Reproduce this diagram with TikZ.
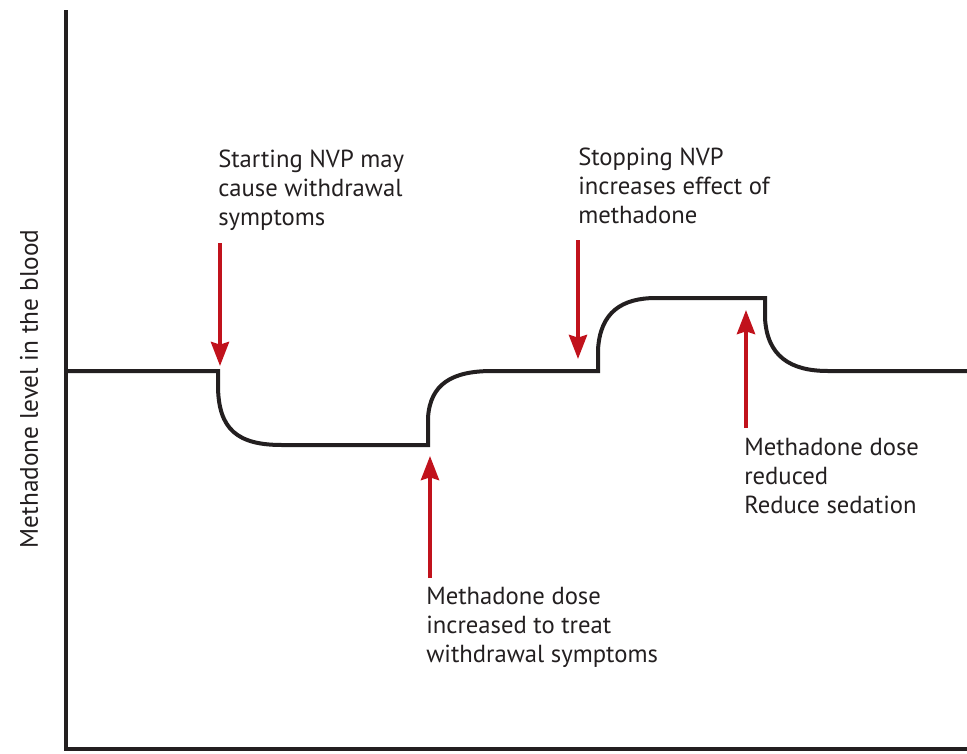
\documentclass[tikz,border=0pt]{standalone}
\usepackage{fontspec}
\setmainfont{PT Sans}
\usepackage{tikz}
\usetikzlibrary{arrows.meta,calc}
\definecolor{curvegray}{HTML}{231F20}
\definecolor{arrowred}{HTML}{C1121C}

\tikzset{
  axisline/.style={line width=3pt,curvegray},
  levelline/.style={line width=3pt,curvegray,line join=miter},
  redarrow/.style={line width=3pt,arrowred,-{Stealth[length=18pt,width=13.5pt,inset=2pt]}},
  note/.style={align=left,anchor=north west,inner sep=0pt,text=curvegray,font=\fontsize{18.5}{21.75}\selectfont}
}

\begin{document}
\begin{tikzpicture}[x=0.75pt,y=-0.75pt]
\useasboundingbox (0,0) rectangle (967,753);
% axes
\draw[axisline] (66,10) -- (66,749) -- (967,749);
\node[rotate=90,text=curvegray,font=\fontsize{19}{22}\selectfont] (ylab) at (29,389) {Methadone level in the blood};
% methadone level
\draw[levelline] (66,371) -- (218,371) -- (218,385)
  .. controls (218,430) and (238,445) .. (282,445) -- (428,445) -- (428,418)
  .. controls (430,384) and (452,371) .. (492,371) -- (598,371) -- (598,350)
  .. controls (600,312) and (622,298) .. (656,298) -- (765,298) -- (765,318)
  .. controls (767,356) and (790,371) .. (828,371) -- (967,371);
% notes
\node[note] (start) at (218,150) {Starting NVP may\\cause withdrawal\\symptoms};
\node[note] (stop) at (578,148) {Stopping NVP\\increases effect of\\methadone};
\node[note] (incr) at (426,587) {Methadone dose\\increased to treat\\withdrawal symptoms};
\node[note] (redu) at (744,438) {Methadone dose\\reduced\\Reduce sedation};
% arrows
\coordinate (a1) at (220,243); \coordinate (b1) at (220,366);
\coordinate (a2) at (430,578); \coordinate (b2) at (430,456);
\coordinate (a3) at (578,240); \coordinate (b3) at (578,359);
\coordinate (a4) at (746,428); \coordinate (b4) at (746,310);
\draw[redarrow] (a1) -- (b1);
\draw[redarrow] (a2) -- (b2);
\draw[redarrow] (a3) -- (b3);
\draw[redarrow] (a4) -- (b4);
\end{tikzpicture}
\end{document}
